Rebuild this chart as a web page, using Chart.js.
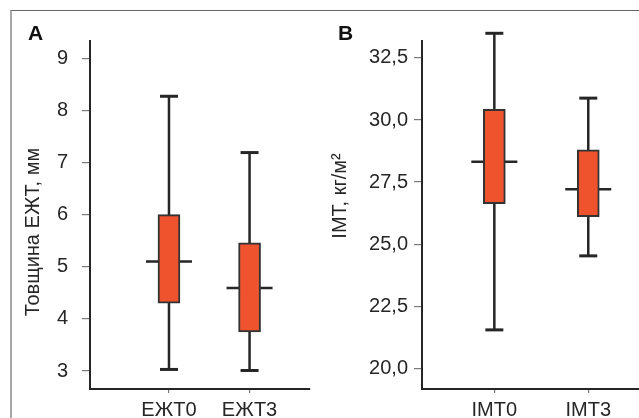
<!DOCTYPE html>
<html>
<head>
<meta charset="utf-8">
<script src="https://cdn.jsdelivr.net/npm/chart.js@4.4.1/dist/chart.umd.min.js"></script>
<style>
  html, body { margin: 0; padding: 0; background: #fff; }
  #wrap { position: relative; width: 639px; height: 418px; overflow: hidden; }
  #frame { position: absolute; left: 10px; top: 10px; width: 640px; height: 420px;
           border-top: 1px solid #666; border-left: 2px solid #a8a8a8; }
  canvas { position: absolute; top: 0; }
  #chartA { left: 0; }
  #chartB { left: 320px; }
</style>
</head>
<body>
<div id="wrap">
  <div id="frame"></div>
  <canvas id="chartA" width="320" height="418"></canvas>
  <canvas id="chartB" width="319" height="418"></canvas>
</div>
<script>
'use strict';

// Panel A: epicardial fat thickness, mm
const catsA = ['ЕЖТ0', 'ЕЖТ3'];
const minA = [3.03, 3.01];
const q1A = [4.30, 3.75];
const medA = [5.10, 4.59];
const q3A = [6.00, 5.46];
const maxA = [8.27, 7.19];
const ticksA = [3, 4, 5, 6, 7, 8, 9];

// Panel B: BMI, kg/m2
const catsB = ['ІМТ0', 'ІМТ3'];
const minB = [21.55, 24.53];
const q1B = [26.63, 26.11];
const medB = [28.32, 27.21];
const q3B = [30.43, 28.80];
const maxB = [33.49, 30.88];
const ticksB = [20, 22.5, 25, 27.5, 30, 32.5];

const ink = '#262626';
const tickInk = '#7a7a7a';
const boxFill = '#ee532e';
const font = 'Liberation Sans';

// whiskers, medians and caps, drawn with the chart's own scales
const boxPlot = {
  id: 'boxPlot',
  beforeDatasetsDraw(chart, _, opts) {
    const { ctx, scales: { x, y } } = chart;
    ctx.save();
    ctx.strokeStyle = ink;
    ctx.lineWidth = 2.5;
    opts.meds.forEach((m, i) => {
      const cx = x.getPixelForValue(i + 1);
      ctx.beginPath();
      ctx.moveTo(cx, y.getPixelForValue(opts.mins[i]));
      ctx.lineTo(cx, y.getPixelForValue(opts.maxs[i]));
      const my = y.getPixelForValue(m);
      ctx.moveTo(cx - 23, my);
      ctx.lineTo(cx + 23, my);
      ctx.stroke();
    });
    ctx.restore();
  },
  afterDatasetsDraw(chart, _, opts) {
    const { ctx, scales: { x, y } } = chart;
    ctx.save();
    ctx.strokeStyle = ink;
    ctx.lineWidth = 3;
    opts.meds.forEach((m, i) => {
      const cx = x.getPixelForValue(i + 1);
      [opts.mins[i], opts.maxs[i]].forEach(v => {
        const py = y.getPixelForValue(v);
        ctx.beginPath();
        ctx.moveTo(cx - 9, py);
        ctx.lineTo(cx + 9, py);
        ctx.stroke();
      });
    });
    ctx.restore();
  },
};

const panelText = {
  id: 'panelText',
  afterDraw(chart, _, opts) {
    const { ctx } = chart;
    ctx.save();
    ctx.fillStyle = '#111';
    ctx.font = `900 21px "${font}"`;
    ctx.textBaseline = 'alphabetic';
    ctx.textAlign = 'left';
    ctx.fillText(opts.letter, opts.letterX, opts.letterY);
    ctx.translate(opts.titleX, opts.titleY);
    ctx.rotate(-Math.PI / 2);
    ctx.textAlign = 'center';
    ctx.textBaseline = 'middle';
    ctx.fillStyle = ink;
    ctx.font = `20px "${font}"`;
    ctx.fillText(opts.title, 0, 0);
    ctx.restore();
  },
};

function makeChart(id, cats, mins, q1s, meds, q3s, maxs, yTicks, cfg) {
  return new Chart(document.getElementById(id), {
    type: 'bar',
    data: {
      datasets: [{
        data: cats.map((c, i) => ({ x: i + 1, y: [q1s[i], q3s[i]] })),
        backgroundColor: boxFill,
        borderColor: '#333',
        borderWidth: 2,
        borderSkipped: false,
        barThickness: 22,
        grouped: false,
      }],
    },
    options: {
      responsive: false,
      animation: false,
      layout: { padding: { top: 41, left: 0, right: cfg.right, bottom: 0 } },
      plugins: {
        legend: { display: false },
        tooltip: { enabled: false },
        boxPlot: { mins, meds, maxs },
        panelText: cfg.text,
      },
      scales: {
        x: {
          type: 'linear',
          offset: false,
          min: cfg.xMin,
          max: cfg.xMax,
          afterBuildTicks: s => { s.ticks = cats.map((c, i) => ({ value: i + 1 })); },
          afterFit: s => { s.height = 29; },
          grid: { display: true, offset: false, drawOnChartArea: false, drawTicks: true, tickLength: 4, color: tickInk, lineWidth: 1.2 },
          border: { display: true, color: ink, width: 2 },
          ticks: {
            autoSkip: false,
            maxRotation: 0,
            padding: 5,
            color: ink,
            font: { family: font, size: 20 },
            callback: v => cats[v - 1],
          },
        },
        y: {
          min: cfg.yMin,
          max: cfg.yMax,
          afterBuildTicks: s => { s.ticks = yTicks.map(v => ({ value: v })); },
          afterFit: s => { s.width = cfg.axisLeft; },
          grid: { display: true, drawOnChartArea: false, drawTicks: true, tickLength: 8, color: tickInk, lineWidth: 1.2 },
          border: { display: true, color: ink, width: 2 },
          ticks: {
            padding: cfg.labelPad,
            color: ink,
            font: { family: font, size: 20 },
            callback: cfg.fmt,
          },
        },
      },
    },
    plugins: [boxPlot, panelText],
  });
}

makeChart('chartA', catsA, minA, q1A, medA, q3A, maxA, ticksA, {
  right: 10, axisLeft: 90, labelPad: 14,
  xMin: 0.02, xMax: 2.75, yMin: 2.655, yMax: 9.33,
  fmt: v => String(v),
  text: { letter: 'A', letterX: 28, letterY: 39.5, title: 'Товщина ЕЖТ, мм', titleX: 33, titleY: 232 },
});

makeChart('chartB', catsB, minB, q1B, medB, q3B, maxB, ticksB, {
  right: 0, axisLeft: 102, labelPad: 6,
  xMin: 0.23, xMax: 2.54, yMin: 19.17, yMax: 33.18,
  fmt: v => v.toFixed(1).replace('.', ','),
  text: { letter: 'B', letterX: 18, letterY: 40, title: 'ІМТ, кг/м²', titleX: 20, titleY: 196 },
});
</script>
</body>
</html>
